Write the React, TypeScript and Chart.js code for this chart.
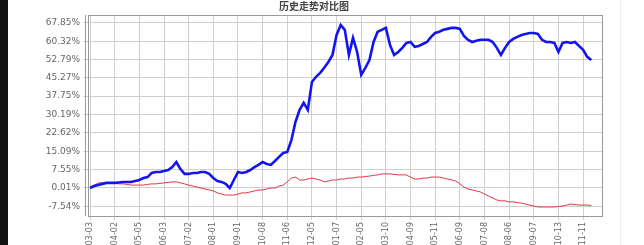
import React, { useEffect, useRef } from "react";
import { Chart, registerables } from "chart.js";

Chart.register(...registerables);

const chartTitle = "历史走势对比图";

const dateLabels = [
  "2014-03-03", "2014-04-02", "2014-05-05", "2014-06-03", "2014-07-02", "2014-08-01", "2014-09-01",
  "2014-10-08", "2014-11-06", "2014-12-05", "2015-01-07", "2015-02-05", "2015-03-10", "2015-04-09",
  "2015-05-11", "2015-06-09", "2015-07-08", "2015-08-06", "2015-09-07", "2015-10-13", "2015-11-11",
];

const LABEL_STEP = 6;

const fundValues = [
  0.0, 0.8, 1.2, 1.7, 2.1, 2.1, 2.1, 2.3, 2.5, 2.5,
  2.5, 2.9, 3.3, 4.1, 4.5, 6.2, 6.6, 6.6, 7.0, 7.4,
  8.6, 10.7, 7.8, 5.8, 5.8, 6.2, 6.2, 6.6, 6.6, 5.8,
  4.1, 2.9, 2.5, 1.7, 0.0, 3.3, 6.6, 6.2, 6.6, 7.4,
  8.6, 9.5, 10.7, 9.9, 9.5, 11.1, 12.8, 14.4, 14.8, 19.7,
  27.2, 32.1, 35.0, 32.1, 43.6, 45.7, 47.3, 49.4, 51.8, 54.7,
  62.9, 67.0, 65.0, 54.7, 61.7, 55.9, 46.5, 49.4, 52.6, 60.0,
  64.2, 65.0, 65.8, 58.8, 54.7, 55.9, 57.6, 59.6, 60.0, 58.0,
  58.4, 59.2, 60.0, 62.1, 63.7, 64.2, 65.0, 65.4, 65.8, 65.8,
  65.4, 62.5, 60.9, 60.0, 60.5, 60.9, 60.9, 60.9, 60.0, 57.6,
  54.7, 57.6, 60.0, 61.3, 62.1, 62.9, 63.3, 63.7, 63.7, 63.3,
  60.9, 60.0, 60.0, 59.6, 55.9, 59.6, 60.0, 59.6, 60.0, 58.4,
  56.8, 53.9, 52.6,
];

const indexValues = [
  0.4, 1.2, 2.1, 2.1, 2.1, 2.1, 1.9, 1.7, 1.7, 1.5,
  1.2, 1.2, 1.2, 1.2, 1.5, 1.7, 1.7, 1.9, 2.1, 2.3,
  2.5, 2.5, 2.1, 1.7, 1.2, 0.8, 0.4, 0.0, -0.4, -0.8,
  -1.2, -2.0, -2.5, -2.9, -2.9, -2.9, -2.5, -2.0, -2.0, -1.6,
  -1.2, -0.8, -0.8, -0.4, 0.0, 0.0, 0.8, 1.2, 2.5, 4.1,
  4.5, 3.3, 3.3, 3.7, 4.1, 3.7, 3.3, 2.5, 2.9, 3.3,
  3.3, 3.7, 3.7, 4.1, 4.1, 4.5, 4.5, 4.7, 4.9, 5.2,
  5.4, 5.8, 5.8, 5.8, 5.6, 5.4, 5.4, 5.4, 4.5, 3.7,
  3.7, 4.1, 4.1, 4.5, 4.5, 4.5, 4.1, 3.7, 3.3, 2.9,
  1.7, 0.4, -0.4, -0.8, -1.2, -1.6, -2.5, -3.3, -4.1, -4.9,
  -5.3, -5.3, -5.7, -5.7, -6.0, -6.2, -6.6, -7.0, -7.4, -7.8,
  -7.8, -7.8, -7.8, -7.8, -7.6, -7.4, -7.0, -6.6, -6.8, -7.0,
  -7.0, -7.0, -7.2,
];

const yTickValues = [-7.54, 0.01, 7.55, 15.09, 22.62, 30.19, 37.75, 45.27, 52.79, 60.32, 67.85];

export default function App() {
  const ref = useRef<HTMLCanvasElement>(null);

  useEffect(() => {
    document.body.style.margin = "0";
    const canvas = ref.current!;
    const framePlugin = {
      id: "frame",
      beforeDraw(chart: any) {
        const c = chart.ctx;
        c.save();
        c.fillStyle = "#ffffff";
        c.fillRect(0, 0, chart.width, chart.height);
        c.restore();
      },
      afterDraw(chart: any) {
        const c = chart.ctx;
        const { left, right, top, bottom } = chart.chartArea;
        c.save();
        c.strokeStyle = "#9a9a9a";
        c.lineWidth = 1;
        c.strokeRect(left + 0.5, top + 0.5, right - left, bottom - top);
        c.beginPath();
        c.moveTo(left - 2.5, top);
        c.lineTo(left - 2.5, bottom);
        c.stroke();
        c.fillStyle = "#444";
        c.font = "bold 10px 'Noto Sans CJK SC'";
        c.textAlign = "center";
        c.textBaseline = "middle";
        c.fillText(chartTitle, chart.width / 2, 6);
        c.restore();
      },
    };

    const chart = new Chart(canvas, {
      type: "line",
      data: {
        datasets: [
          {
            data: fundValues.map((v, i) => ({ x: i, y: v })),
            borderColor: "#1414f0",
            borderWidth: 2.6,
            pointRadius: 0,
            tension: 0,
          },
          {
            data: indexValues.map((v, i) => ({ x: i, y: v })),
            borderColor: "#e23545",
            borderWidth: 1,
            pointRadius: 0,
            tension: 0,
          },
        ],
      },
      options: {
        animation: false,
        responsive: false,
        layout: { padding: { top: 15, right: 18, left: 0, bottom: 0 } },
        plugins: {
          legend: { display: false },
          tooltip: { enabled: false },
          title: { display: false },
        },
        scales: {
          x: {
            type: "linear",
            min: -0.5,
            max: 124.6,
            afterBuildTicks: (s: any) => {
              s.ticks = dateLabels.map((_, k) => ({ value: k * LABEL_STEP }));
            },
            afterFit: (s: any) => {
              s.height = 29;
            },
            ticks: {
              autoSkip: false,
              minRotation: 90,
              maxRotation: 90,
              padding: 2,
              color: "#666",
              font: { size: 8, family: "'DejaVu Sans'" },
              callback: (_v: any, i: number) => dateLabels[i],
            },
            grid: { color: "#cfcfcf", tickLength: 4 },
            border: { color: "#9a9a9a" },
          },
          y: {
            min: -11.5,
            max: 71.1,
            afterBuildTicks: (s: any) => {
              s.ticks = yTickValues.map((v) => ({ value: v }));
            },
            afterFit: (s: any) => {
              s.width = 80;
            },
            ticks: {
              autoSkip: false,
              padding: 3,
              color: "#666",
              font: { size: 9, family: "'DejaVu Sans'" },
              callback: (v: any) => Number(v).toFixed(2) + "%",
            },
            grid: { color: "#cfcfcf", tickLength: 5 },
            border: { color: "#9a9a9a" },
          },
        },
      },
      plugins: [framePlugin],
    });
    return () => chart.destroy();
  }, []);

  return (
    <div style={{ display: "flex", width: 644, height: 245, background: "#fff" }}>
      <div style={{ width: 8, height: 245, background: "#111" }} />
      <canvas ref={ref} width={612} height={245} style={{ display: "block", width: 612, height: 245 }} />
      <div style={{ width: 1, height: 245, background: "#eee" }} />
    </div>
  );
}
